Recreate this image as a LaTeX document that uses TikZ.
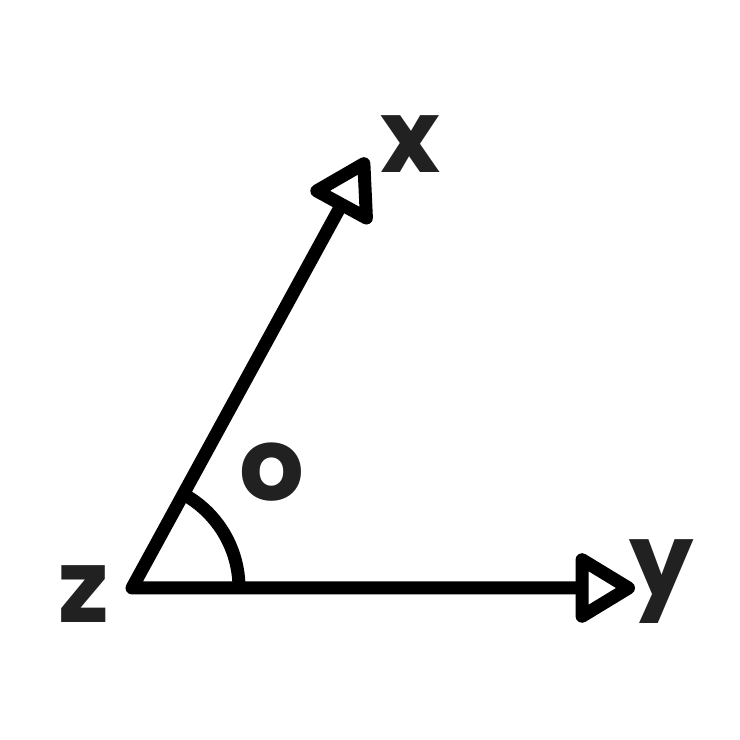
\documentclass[tikz,border=0pt]{standalone}
\usepackage{fontspec}
\setmainfont{Poppins}
\usetikzlibrary{arrows.meta}

\begin{document}
\begin{tikzpicture}[
  >={Triangle[open, length=0.66cm, width=0.76cm, round]},
  ray/.style={line width=0.13cm, line join=round, <->},
  lbl/.style={inner sep=0pt, font=\fontsize{29}{29}\selectfont\bfseries, text=black!87}
]
  \useasboundingbox (0,0) rectangle (7.4,7.4);
  \coordinate (Z) at (1.32,1.52);
  \coordinate (X) at (3.67,5.82);
  \coordinate (Y) at (6.35,1.52);
  \draw [ray] (X) -- (Z) -- (Y);
  \draw [line width=0.13cm] ([shift={(0:1.07)}]Z) arc [start angle=0, end angle=61.3, radius=1.07];
  \node [lbl] (lx) at (4.10,5.96) {x};
  \node [lbl] (ly) at (6.62,1.58) {y};
  \node [lbl] (lz) at (0.84,1.46) {z};
  \node [lbl] (lo) at (2.72,2.68) {o};
\end{tikzpicture}
\end{document}
